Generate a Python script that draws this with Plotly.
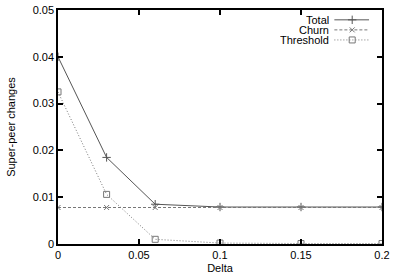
import plotly.graph_objects as go

delta = [0, 0.03, 0.06, 0.1, 0.15, 0.2]
total = [0.0400, 0.0185, 0.0085, 0.0079, 0.0079, 0.0079]
churn = [0.0078, 0.0078, 0.0078, 0.0078, 0.0078, 0.0078]
threshold = [0.0325, 0.0106, 0.0010, 0.0002, 0.0001, 0.0001]

names = ["Total", "Churn", "Threshold"]
series = [total, churn, threshold]
dashes = ["solid", "3px,2px", "1px,2px"]
symbols = ["cross-thin-open", "x-thin-open", "square-open"]
colors = ["#555555", "#777777", "#777777"]
msizes = [6, 5, 6]

FONT = "Liberation Sans, Arial, Helvetica, sans-serif"
fig = go.Figure()
for n, s, d, sym, c, ms in zip(names, series, dashes, symbols, colors, msizes):
    fig.add_trace(go.Scatter(
        x=delta, y=s, mode="lines+markers", name=n, showlegend=False,
        line=dict(color=c, width=1, dash=d),
        marker=dict(symbol=sym, size=ms, color=c, line=dict(color=c, width=1)),
    ))

# gnuplot-style key (text left of sample), on a hidden helper axis
key_y = [0.958, 0.915, 0.872]
for n, ky, d, sym, c, ms in zip(names, key_y, dashes, symbols, colors, msizes):
    fig.add_trace(go.Scatter(
        x=[0.853, 0.908, 0.96], y=[ky, ky, ky], xaxis="x2", yaxis="y2",
        mode="lines", showlegend=False, hoverinfo="skip",
        line=dict(color=c, width=1, dash=d),
    ))
    fig.add_trace(go.Scatter(
        x=[0.908], y=[ky], xaxis="x2", yaxis="y2", mode="markers",
        showlegend=False, hoverinfo="skip",
        marker=dict(symbol=sym, size=ms, color=c, line=dict(color=c, width=1)),
    ))
    fig.add_annotation(x=0.838, y=ky, xref="x2", yref="y2", text=n,
                       showarrow=False, xanchor="right", yanchor="middle",
                       height=10, borderpad=0,
                       font=dict(family=FONT, size=11, color="#000"))

axis_common = dict(
    showgrid=False, zeroline=False, showline=True, linecolor="#000",
    linewidth=1.5, mirror="ticks", ticks="inside", ticklen=5,
    tickcolor="#000", tickwidth=1.5, ticklabeloverflow="allow",
    tickfont=dict(family=FONT, size=11, color="#000"),
)
fig.update_layout(
    width=394, height=277,
    margin=dict(l=58, r=9, t=4, b=33),
    paper_bgcolor="white", plot_bgcolor="white",
    showlegend=False,
    xaxis=dict(range=[0, 0.2], tickvals=[0, 0.05, 0.1, 0.15, 0.2],
               ticktext=["0", "0.05", "0.1", "0.15", "0.2"],
               title=dict(text="Delta", standoff=4,
                          font=dict(family=FONT, size=11, color="#000")),
               **axis_common),
    yaxis=dict(range=[0, 0.05], tickvals=[0, 0.01, 0.02, 0.03, 0.04, 0.05],
               ticktext=["0", "0.01", "0.02", "0.03", "0.04", "0.05"],
               title=dict(text="Super-peer changes", standoff=15,
                          font=dict(family=FONT, size=11, color="#000")),
               **axis_common),
    xaxis2=dict(range=[0, 1], overlaying="x", visible=False),
    yaxis2=dict(range=[0, 1], overlaying="y", visible=False),
)
fig.write_html("out.html", config={"displayModeBar": False},
               post_script="document.body.style.margin='0';"
                           "document.body.style.overflow='hidden';")
